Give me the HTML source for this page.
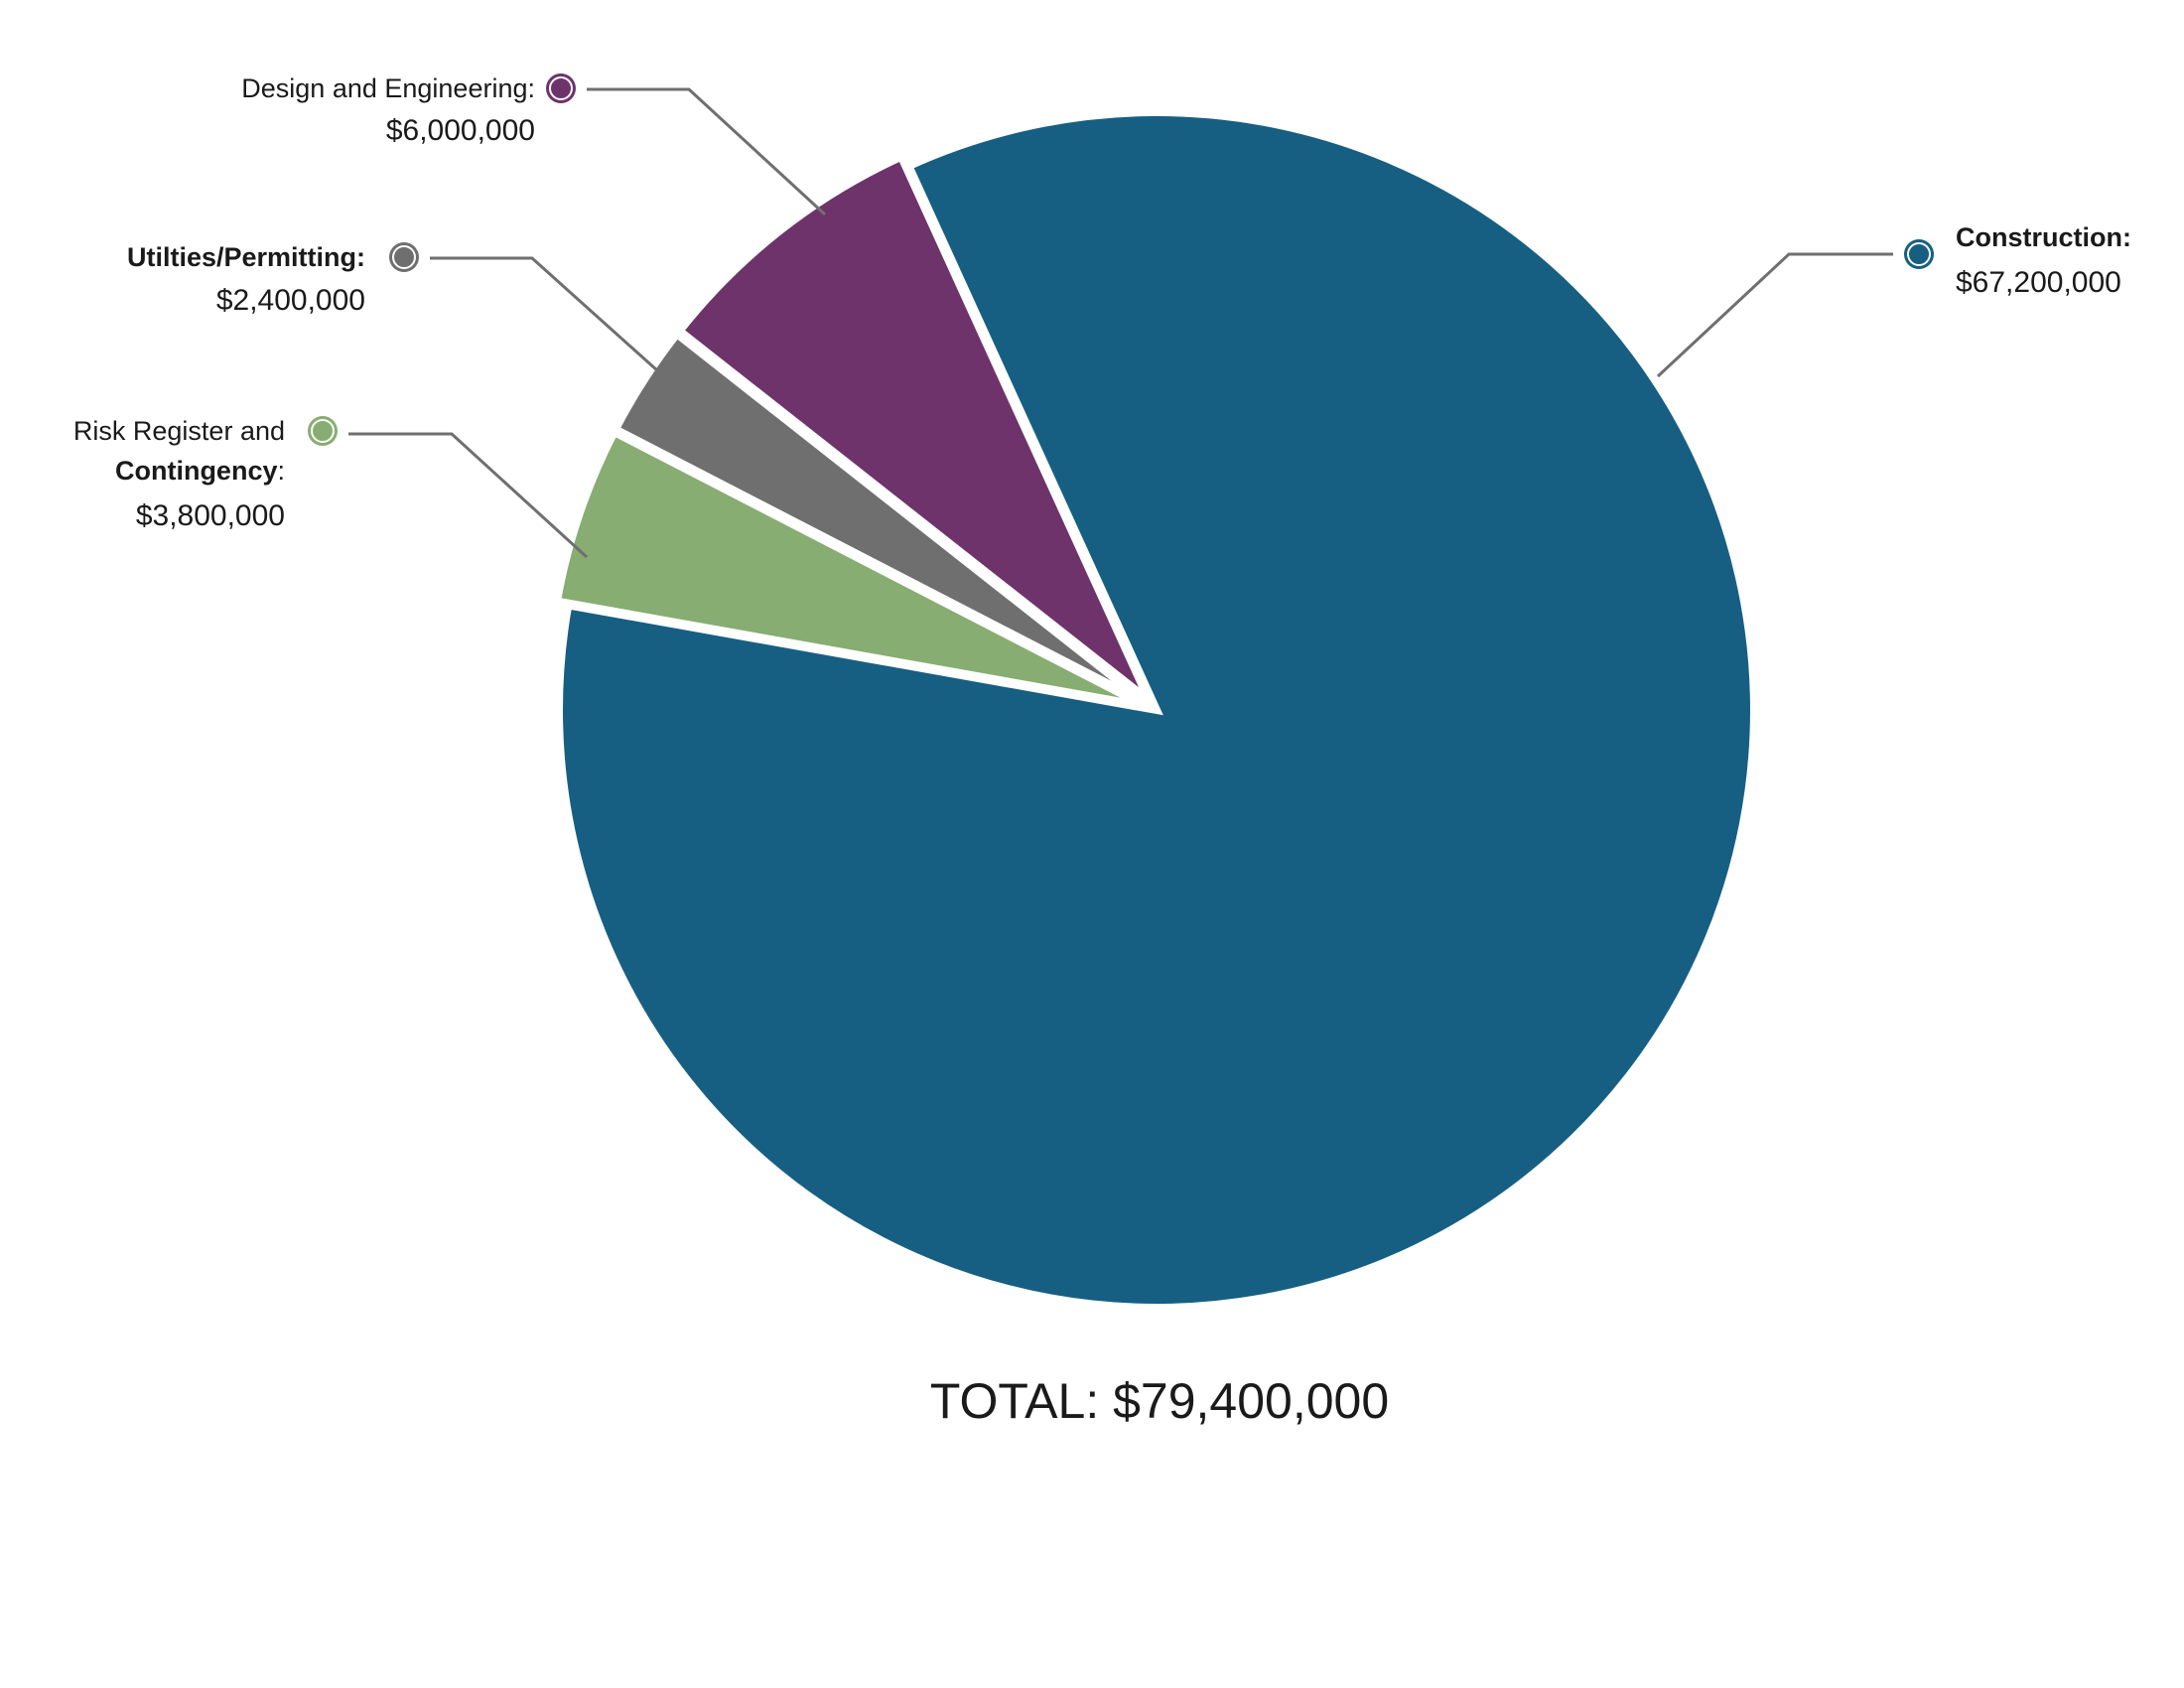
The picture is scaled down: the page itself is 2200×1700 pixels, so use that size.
<!DOCTYPE html>
<html><head><meta charset="utf-8"><style>
html,body{margin:0;padding:0;background:#fff;}
svg{display:block;}
text{font-family:"Liberation Sans",sans-serif;fill:#1a1a1a;}
</style></head><body>
<svg width="2200" height="1700" viewBox="0 0 2200 1700" xmlns="http://www.w3.org/2000/svg">
<g id="pie" stroke="#fff" stroke-width="8" stroke-linejoin="miter"></g>
<g fill="none" stroke="#6f6f6f" stroke-width="3">
<polyline points="591,90 694,90 831,216"/>
<polyline points="433,260 536,260 672,382"/>
<polyline points="351,437 455,437 591,561"/>
<polyline points="1907,256 1802,256 1670,379"/>
</g>
<g>
<circle cx="565" cy="89" r="15" fill="#6e336b"/><circle cx="565" cy="89" r="11" fill="#6e336b" stroke="#fff" stroke-width="2"/>
<circle cx="407" cy="259" r="15" fill="#6f6f6f"/><circle cx="407" cy="259" r="11" fill="#6f6f6f" stroke="#fff" stroke-width="2"/>
<circle cx="325" cy="434" r="15" fill="#87ad72"/><circle cx="325" cy="434" r="11" fill="#87ad72" stroke="#fff" stroke-width="2"/>
<circle cx="1933" cy="256" r="15" fill="#175f82"/><circle cx="1933" cy="256" r="11" fill="#175f82" stroke="#fff" stroke-width="2"/>
</g>
<g text-anchor="end">
<text x="539" y="98" font-size="27">Design and Engineering:</text>
<text x="539" y="141" font-size="30">$6,000,000</text>
<text x="368" y="268" font-size="27" font-weight="bold">Utilties/Permitting:</text>
<text x="368" y="312" font-size="30">$2,400,000</text>
<text x="287" y="443" font-size="27">Risk Register and</text>
<text x="287" y="483" font-size="27"><tspan font-weight="bold">Contingency</tspan>:</text>
<text x="287" y="529" font-size="30">$3,800,000</text>
</g>
<text x="1970" y="248" font-size="27" font-weight="bold">Construction:</text>
<text x="1970" y="294" font-size="30">$67,200,000</text>
<text x="1168" y="1428" font-size="50" text-anchor="middle">TOTAL: $79,400,000</text>
<script>
(function(){
var C=[1165,715],R=602,g=document.getElementById('pie');
function pt(c,a,r){var t=a*Math.PI/180;return [c[0]+r*Math.sin(t),c[1]-r*Math.cos(t)];}
function slice(a0,a1,col,ex){
 var m=(a0+a1)/2,c=pt(C,m,ex),p0=pt(c,a0,R),p1=pt(c,a1,R),large=(a1-a0)>180?1:0;
 var p=document.createElementNS('http://www.w3.org/2000/svg','path');
 p.setAttribute('d','M'+c[0]+','+c[1]+' L'+p0[0]+','+p0[1]+' A'+R+','+R+' 0 '+large+' 1 '+p1[0]+','+p1[1]+' Z');
 p.setAttribute('fill',col);g.appendChild(p);}
slice(-24.5,280.1,'#175f82',0);
slice(280.1,297.3,'#87ad72',12);
slice(297.3,308.2,'#6f6f6f',12);
slice(308.2,335.5,'#6e336b',12);
})();
</script>
</svg>
</body></html>
